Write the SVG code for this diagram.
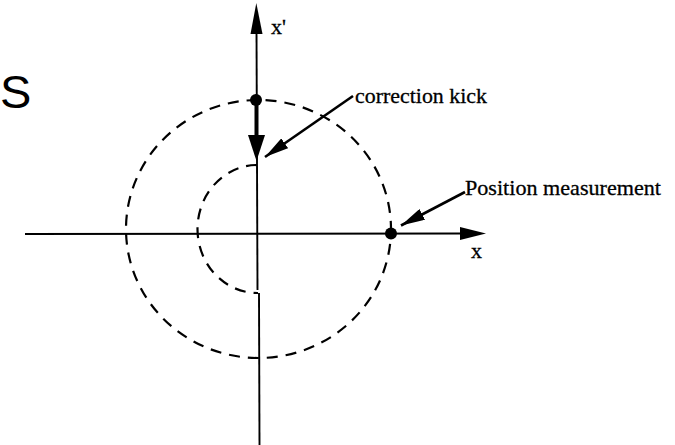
<svg xmlns="http://www.w3.org/2000/svg" width="675" height="445" viewBox="0 0 675 445">
  <defs>
    <style>
      .axis { stroke: #000; stroke-width: 1.9; fill: none; }
      .dash { stroke: #000; stroke-width: 2.2; fill: none; stroke-dasharray: 11 8; }
      .lbl { font-family: "Liberation Serif", "Times New Roman", serif; font-size: 22px; fill: #000; stroke: #000; stroke-width: 0.3; }
      .call { stroke: #000; stroke-width: 2.6; fill: none; }
    </style>
    <marker id="ah" viewBox="0 0 24 12" refX="24" refY="6" markerWidth="24" markerHeight="12" markerUnits="userSpaceOnUse" orient="auto">
      <path d="M0,0 L24,6 L0,12 Z" fill="#000"/>
    </marker>
  </defs>
  <rect width="675" height="445" fill="#fff"/>

  <g id="title-s">
    <text x="0" y="108" font-family="Liberation Sans, Arial, sans-serif" font-size="47" fill="#000">S</text>
  </g>

  <g id="x-axis">
    <line class="axis" x1="25" y1="234" x2="462" y2="233.5"/>
    <polygon points="460,227 486,233.5 460,240" fill="#000"/>
    <text class="lbl" x="471" y="258">x</text>
  </g>

  <g id="xprime-axis">
    <line class="axis" x1="256.5" y1="30" x2="257.5" y2="290"/>
    <line class="axis" x1="259" y1="293" x2="259.5" y2="445"/>
    <polygon points="250.5,34 256.3,3 262.5,34" fill="#000"/>
    <text class="lbl" x="271" y="34">x'</text>
  </g>

  <g id="outer-orbit">
    <ellipse class="dash" cx="258.5" cy="229" rx="132.5" ry="129" stroke-dashoffset="4"/>
  </g>

  <g id="inner-orbit">
    <path class="dash" d="M257,165 A60,64 0 0 0 258,293" stroke-dasharray="10 7"/>
  </g>

  <g id="kick">
    <line x1="256.5" y1="100" x2="256.5" y2="140" stroke="#000" stroke-width="4"/>
    <polygon points="248,135 265,135 256.5,161" fill="#000"/>
    <circle cx="256" cy="100" r="6" fill="#000"/>
  </g>

  <g id="measurement">
    <circle cx="391" cy="233.5" r="6" fill="#000"/>
  </g>

  <g id="label-correction">
    <text class="lbl" x="355" y="103" textLength="132" lengthAdjust="spacingAndGlyphs">correction kick</text>
  </g>

  <g id="label-position">
    <text class="lbl" x="465" y="195" textLength="196" lengthAdjust="spacingAndGlyphs">Position measurement</text>
  </g>

  <g id="connectors">
    <path class="call" d="M353,96 L265,157" marker-end="url(#ah)"/>
    <path class="call" d="M465,192 L401,225.5" marker-end="url(#ah)"/>
  </g>
</svg>
